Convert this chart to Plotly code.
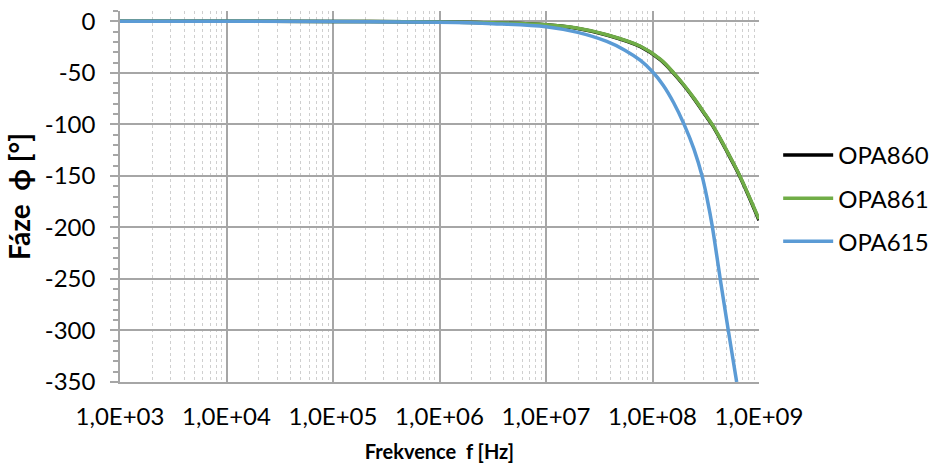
import plotly.graph_objects as go

# Data
freq_860 = [1e3, 1e4, 1e5, 1e6, 3.16e6, 1e7, 1.94e7, 3.72e7, 7.71e7, 1.19e8, 1.58e8,
            2.0e8, 2.51e8, 3.16e8, 3.63e8, 4.37e8, 5.01e8, 6.61e8, 1e9]
phase_860 = [0, -0.03, -0.1, -0.6, -1.6, -3.4, -6.7, -13.3, -24.6, -37.5, -50.5,
             -63, -76.5, -91.5, -100.5, -115, -126.5, -150.5, -193]

freq_861 = [1e3, 1e4, 1e5, 1e6, 3.16e6, 1e7, 1.94e7, 3.72e7, 7.71e7, 1.19e8, 1.58e8,
            2.0e8, 2.51e8, 3.16e8, 3.63e8, 4.37e8, 5.01e8, 6.61e8, 1e9]
phase_861 = [0, -0.03, -0.1, -0.6, -1.5, -3.3, -6.5, -13, -24.2, -37, -50,
             -62.5, -76, -91, -100, -114.5, -126, -150, -192]

freq_615 = [1e3, 1e4, 1e5, 1e6, 3.16e6, 1e7, 1.94e7, 3.72e7, 5.5e7, 7.71e7, 1e8, 1.26e8,
            1.58e8, 1.98e8, 2.45e8, 2.92e8, 3.27e8, 3.63e8, 4.31e8, 5.15e8, 6.17e8]
phase_615 = [0, -0.05, -0.2, -1.0, -2.3, -5.2, -10.5, -19.5, -28, -38, -49, -62,
             -79, -100, -124, -150, -173, -198, -249, -300, -350]

x_tickvals = [1e3, 1e4, 1e5, 1e6, 1e7, 1e8, 1e9]
x_ticktext = ["1,0E+03", "1,0E+04", "1,0E+05", "1,0E+06", "1,0E+07", "1,0E+08", "1,0E+09"]
y_tickvals = [0, -50, -100, -150, -200, -250, -300, -350]
y_ticktext = ["0", "-50", "-100", "-150", "-200", "-250", "-300", "-350"]

FONT = "Lato"
GRID = "#a6a6a6"

fig = go.Figure()
series = [
    ("OPA860", freq_860, phase_860, "#000000"),
    ("OPA861", freq_861, phase_861, "#70ad47"),
    ("OPA615", freq_615, phase_615, "#5b9bd5"),
]
for name, f, p, c in series:
    fig.add_trace(go.Scatter(
        x=f, y=p, name=name, mode="lines",
        line=dict(color=c, width=3.5, shape="spline", smoothing=1.0),
        legendgroup=name,
    ))

fig.update_layout(
    width=936, height=473,
    margin=dict(l=120, r=177, t=11, b=91, autoexpand=False),
    paper_bgcolor="white", plot_bgcolor="white",
    font=dict(family=FONT, size=24, color="#000000"),
    showlegend=True,
    legend=dict(
        x=1.03, y=0.495, xanchor="left", yanchor="middle",
        font=dict(family=FONT, size=24),
        tracegroupgap=9, itemwidth=50,
        bgcolor="rgba(0,0,0,0)",
    ),
)

fig.update_xaxes(
    type="log", range=[3, 9],
    tickvals=x_tickvals, ticktext=x_ticktext,
    ticks="outside", ticklen=12, tickcolor="rgba(0,0,0,0)",
    showgrid=True, gridcolor=GRID, gridwidth=1.5,
    showline=True, linecolor=GRID, linewidth=1.5,
    zeroline=False,
    minor=dict(showgrid=True, gridcolor="#cfcfcf", griddash="dot", gridwidth=1,
               dtick="D1", ticks=""),
    title=dict(text="<b>Frekvence  f [Hz]</b>", font=dict(family=FONT, size=20), standoff=16),
)

fig.update_yaxes(
    range=[-350, 10],
    tickvals=y_tickvals, ticktext=y_ticktext,
    ticks="outside", ticklen=8, tickcolor=GRID, tickwidth=1.5,
    ticklabelstandoff=10,
    showgrid=True, gridcolor=GRID, gridwidth=1.5,
    showline=True, linecolor=GRID, linewidth=1.5,
    zeroline=False,
    minor=dict(dtick=10, tick0=0, ticks="outside", ticklen=5, tickcolor=GRID, showgrid=False),
    title=dict(text="<b>Fáze  ϕ [°]</b>", font=dict(family=FONT, size=28), standoff=6),
)

fig.write_html("out.html")
